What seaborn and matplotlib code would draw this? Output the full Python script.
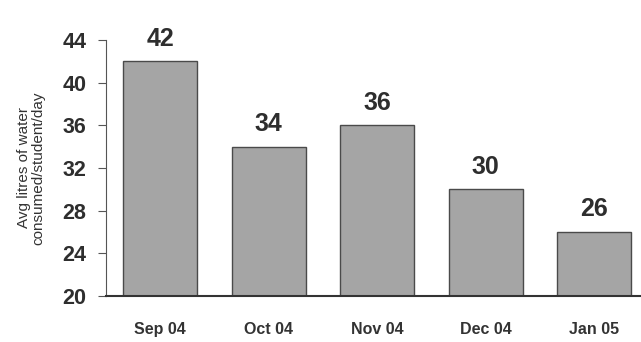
import matplotlib
matplotlib.use("Agg")
import matplotlib.pyplot as plt
import seaborn as sns
import pandas as pd

# chart values
months = ["Sep 04", "Oct 04", "Nov 04", "Dec 04", "Jan 05"]
litres = [42, 34, 36, 30, 26]
y_ticks = [20, 24, 28, 32, 36, 40, 44]

df = pd.DataFrame({"month": months, "litres": litres})

sns.set_style("white")
plt.rcParams["font.family"] = ["Liberation Sans", "DejaVu Sans"]

fig = plt.figure(figsize=(6.41, 3.42), dpi=100)
ax = fig.add_axes([0.165, 0.135, 0.835, 0.748])

sns.barplot(data=df, x="month", y="litres", color="#a5a5a5", width=0.68,
            edgecolor="#4a4a4a", linewidth=1.0, saturation=1, ax=ax)

# value labels above bars
for i, v in enumerate(litres):
    ax.text(i, v + 1.0, str(v), ha="center", va="bottom",
            fontsize=18, fontweight="bold", color="#2e2e2e")

ax.set_ylim(20, 44)
ax.set_xlim(-0.5, 4.43)
ax.set_yticks(y_ticks)
ax.set_yticklabels([str(t) for t in y_ticks], fontsize=15.5, fontweight="bold", color="#2e2e2e")
ax.set_xticks(range(len(months)))
ax.set_xticklabels(months, fontsize=11.5, fontweight="bold", color="#333333")
ax.set_xlabel("")
ax.set_ylabel("Avg litres of water\nconsumed/student/day", fontsize=11, color="#333333",
              labelpad=12, linespacing=1.05)

sns.despine(ax=ax, top=True, right=True)
ax.spines["left"].set_color("#555555")
ax.spines["bottom"].set_color("#333333")
ax.spines["bottom"].set_linewidth(1.5)
ax.tick_params(axis="y", left=True, length=6, color="#555555", pad=8)
ax.tick_params(axis="x", bottom=False, pad=15)

fig.savefig("out.png", dpi=100)
